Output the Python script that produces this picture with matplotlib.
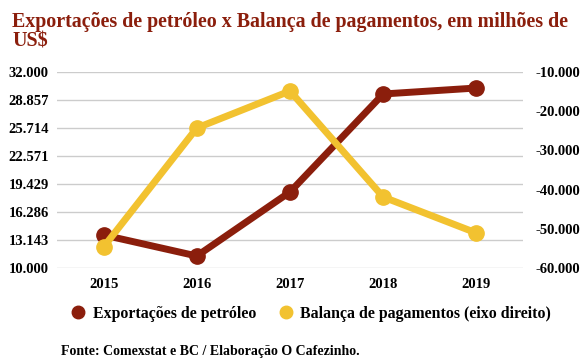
import matplotlib.pyplot as plt
from matplotlib.lines import Line2D
from matplotlib.ticker import FuncFormatter

plt.rcParams['font.family'] = ['Liberation Serif', 'DejaVu Serif']
plt.rcParams['font.weight'] = 'bold'

anos = ['2015', '2016', '2017', '2018', '2019']
exportacoes = [13704, 11347, 18531, 29531, 30204]
balanca = [-54643, -24286, -14847, -41888, -51071]

vermelho = '#8b1e0c'
amarelo = '#f2c230'


def milhar(v, pos):
    s = f"{abs(v):,.0f}".replace(',', '.')
    return ('-' if v < 0 else '') + s


fig = plt.figure(figsize=(5.88, 3.61), dpi=100)
ax = fig.add_axes([57/588, 1 - 268/361, (523 - 57)/588, (268 - 72)/361])
ax2 = ax.twinx()

x = list(range(len(anos)))
ax.plot(x, exportacoes, color=vermelho, lw=5, marker='o', ms=11,
        solid_capstyle='round', zorder=3)
ax2.plot(x, balanca, color=amarelo, lw=5, marker='o', ms=11,
         solid_capstyle='round', zorder=3)

ax.set_xlim(-0.5, len(anos) - 0.5)
ax.set_ylim(10000, 32000)
ax.set_yticks([10000 + i * 22000 / 7 for i in range(8)])
ax2.set_ylim(-60000, -10000)
ax2.set_yticks(range(-60000, -9999, 10000))
ax.yaxis.set_major_formatter(FuncFormatter(milhar))
ax2.yaxis.set_major_formatter(FuncFormatter(milhar))
ax.set_xticks(x)
ax.set_xticklabels(anos, fontsize=13.5, fontweight='bold')

ax.grid(axis='y', color='#cccccc', lw=1)
ax.set_axisbelow(True)
for a in (ax, ax2):
    for s in a.spines.values():
        s.set_visible(False)
    a.tick_params(length=0, labelsize=10.5)
ax.tick_params(axis='y', pad=6)
ax2.tick_params(axis='y', pad=9)
ax.tick_params(axis='x', pad=7)

fig.text(12/588, 1 - 12/361, 'Exportações de petróleo x Balança de pagamentos, em milhões de\nUS$',
         fontsize=14.4, fontweight='bold', color=vermelho, va='top', ha='left',
         linespacing=0.95)

handles = [Line2D([], [], ls='', marker='o', ms=9, color=vermelho),
           Line2D([], [], ls='', marker='o', ms=9, color=amarelo)]
fig.legend(handles, ['Exportações de petróleo', 'Balança de pagamentos (eixo direito)'],
           loc='center', bbox_to_anchor=(310/588, 1 - 314/361), ncol=2, frameon=False,
           prop={'size': 11.4, 'weight': 'bold'}, handletextpad=0.3, columnspacing=1.3,
           handlelength=1.2)

fig.text(61/588, 1 - 352/361, 'Fonte: Comexstat e BC / Elaboração O Cafezinho.',
         fontsize=10, fontweight='bold', va='center', ha='left')

fig.savefig('out.png', dpi=100)
